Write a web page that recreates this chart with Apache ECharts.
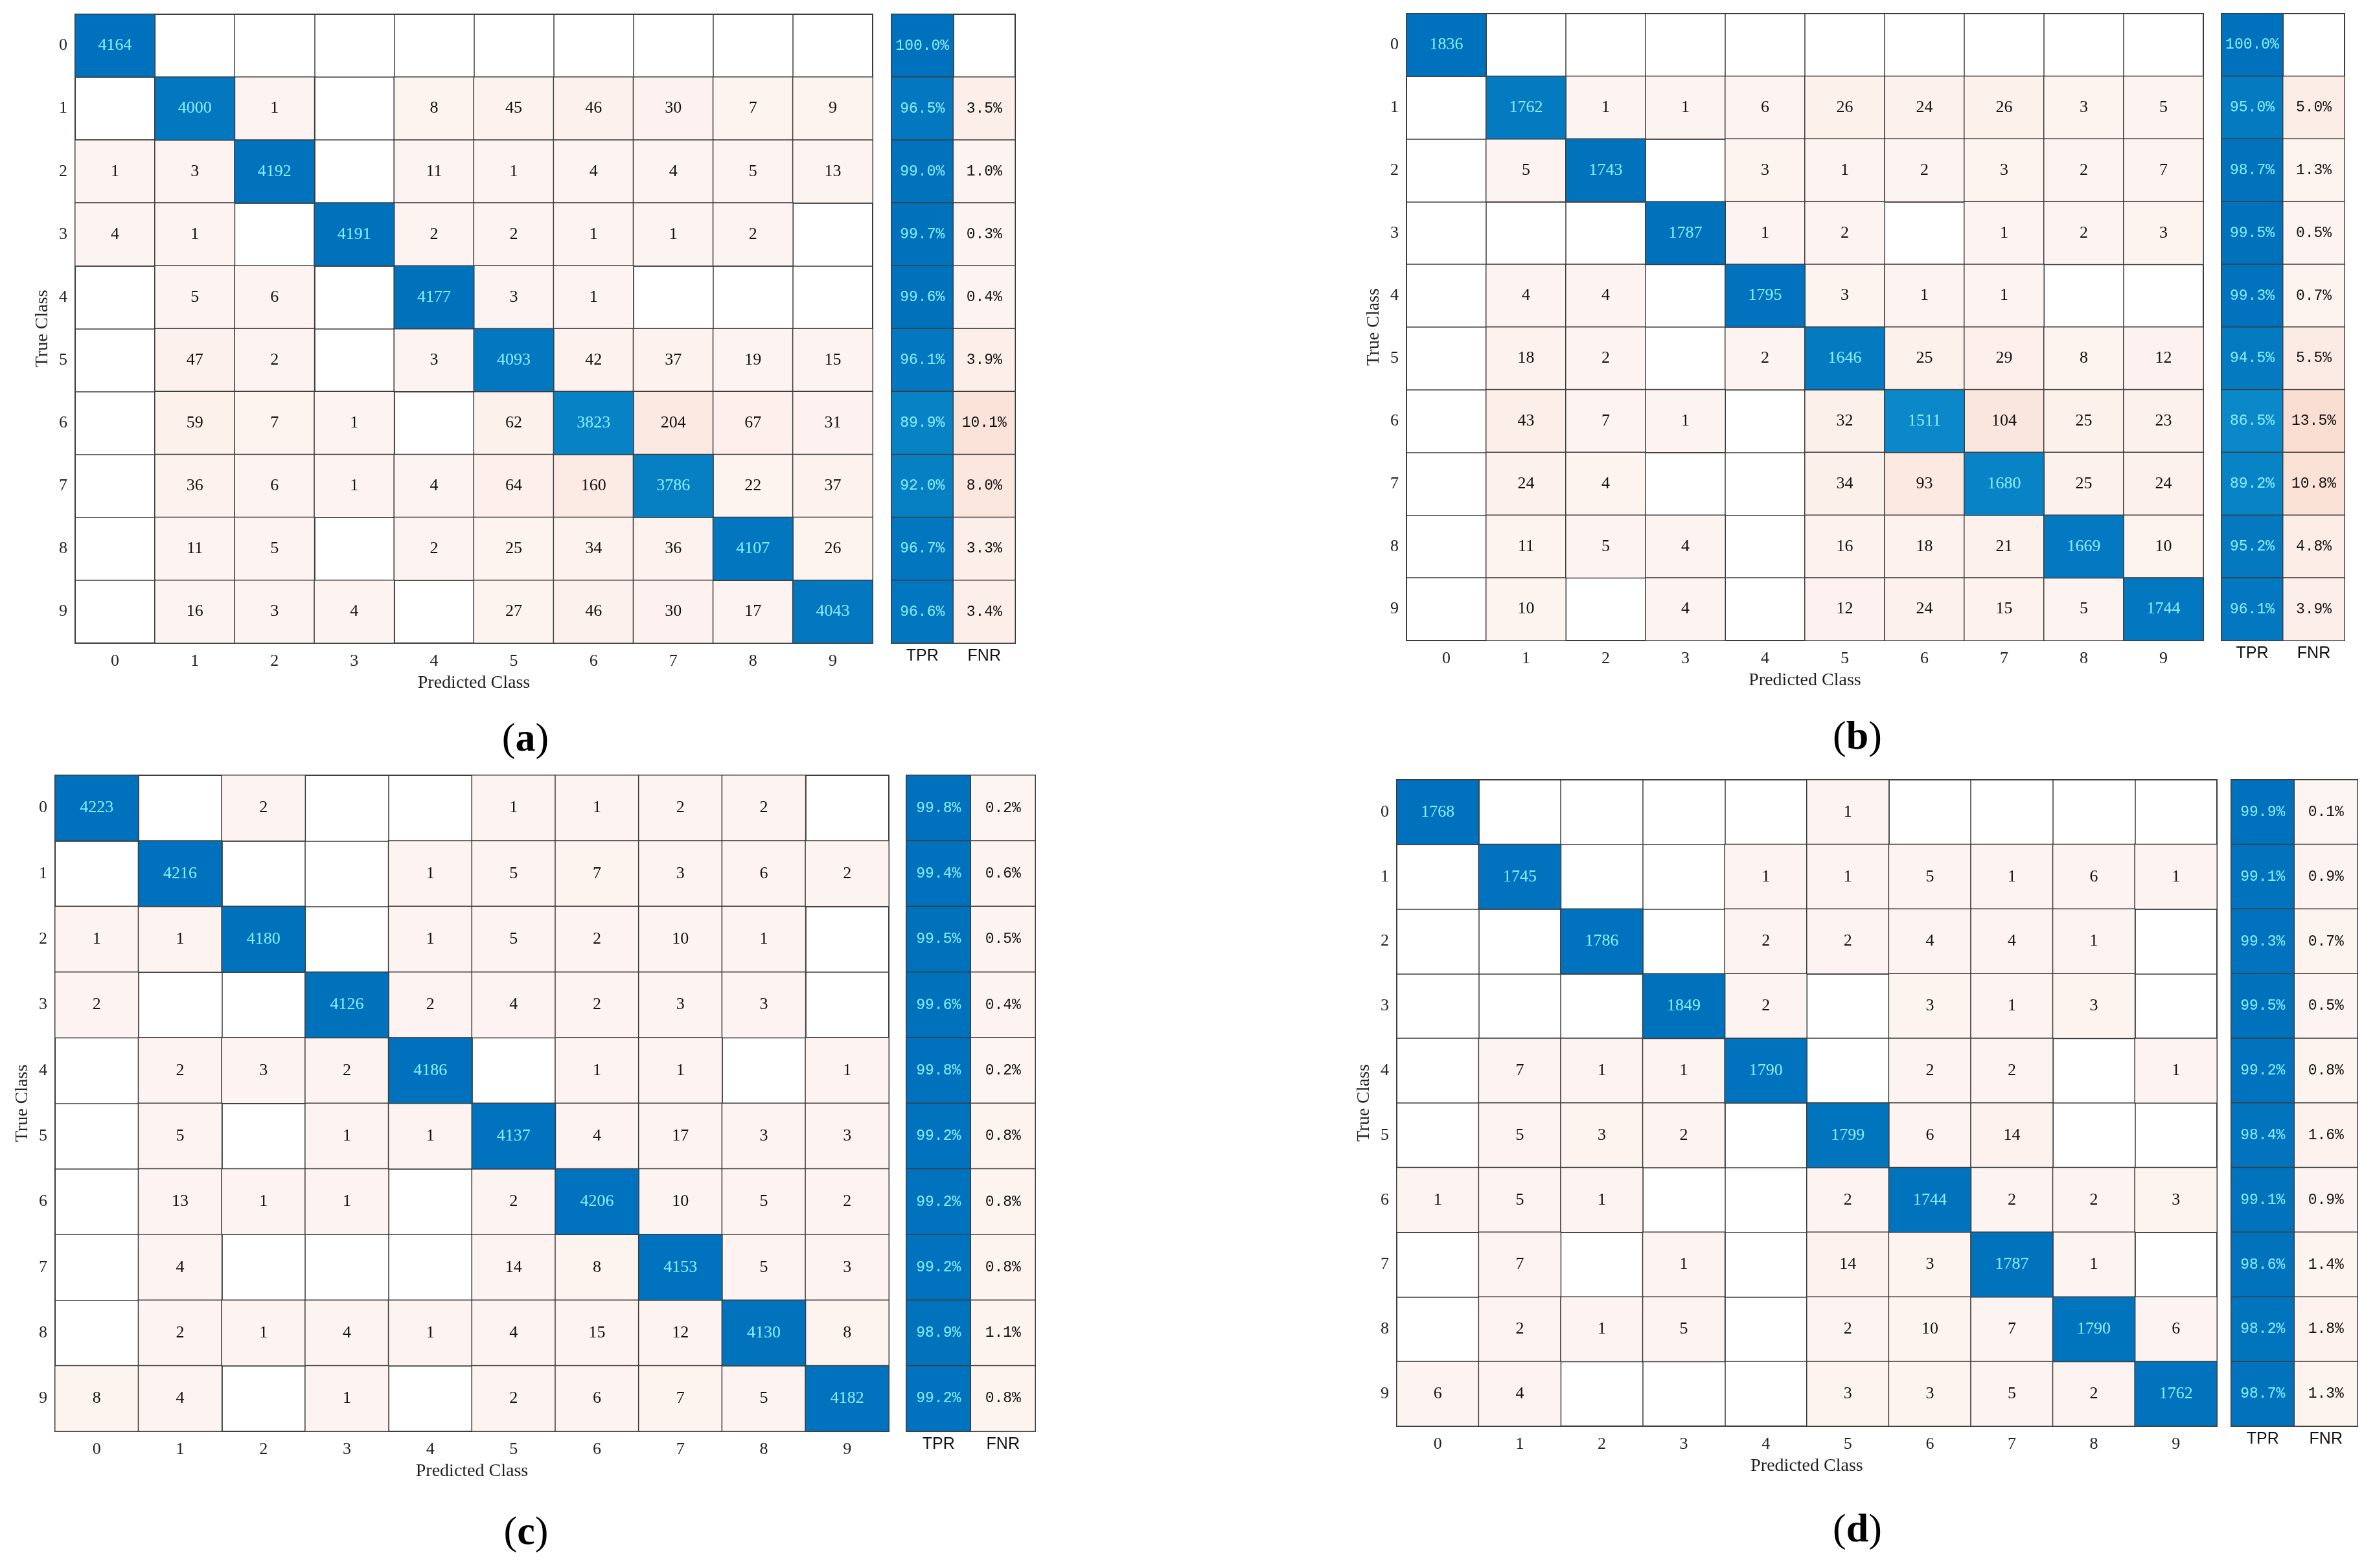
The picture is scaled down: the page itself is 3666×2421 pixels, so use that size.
<!DOCTYPE html>
<html lang="en">
<head>
<meta charset="UTF-8">
<title>Confusion matrices (a)-(d)</title>
<script src="https://cdn.jsdelivr.net/npm/echarts@6/dist/echarts.min.js"></script>
<style>
  html, body { margin: 0; padding: 0; background: #fff; }
  #main { width: 3666px; height: 2421px; }
</style>
</head>
<body>
<div id="main"></div>
<script>
// class labels
var classes = ['0', '1', '2', '3', '4', '5', '6', '7', '8', '9'];
var rateCols = ['TPR', 'FNR'];
var panelNames = ['a', 'b', 'c', 'd'];

// rows = true class, cols = predicted class, 0 = empty cell
var matrixA = [
    [4164, 0, 0, 0, 0, 0, 0, 0, 0, 0],
    [0, 4000, 1, 0, 8, 45, 46, 30, 7, 9],
    [1, 3, 4192, 0, 11, 1, 4, 4, 5, 13],
    [4, 1, 0, 4191, 2, 2, 1, 1, 2, 0],
    [0, 5, 6, 0, 4177, 3, 1, 0, 0, 0],
    [0, 47, 2, 0, 3, 4093, 42, 37, 19, 15],
    [0, 59, 7, 1, 0, 62, 3823, 204, 67, 31],
    [0, 36, 6, 1, 4, 64, 160, 3786, 22, 37],
    [0, 11, 5, 0, 2, 25, 34, 36, 4107, 26],
    [0, 16, 3, 4, 0, 27, 46, 30, 17, 4043]
];
var tprA = [100.0, 96.5, 99.0, 99.7, 99.6, 96.1, 89.9, 92.0, 96.7, 96.6];
var fnrA = [null, 3.5, 1.0, 0.3, 0.4, 3.9, 10.1, 8.0, 3.3, 3.4];

var matrixB = [
    [1836, 0, 0, 0, 0, 0, 0, 0, 0, 0],
    [0, 1762, 1, 1, 6, 26, 24, 26, 3, 5],
    [0, 5, 1743, 0, 3, 1, 2, 3, 2, 7],
    [0, 0, 0, 1787, 1, 2, 0, 1, 2, 3],
    [0, 4, 4, 0, 1795, 3, 1, 1, 0, 0],
    [0, 18, 2, 0, 2, 1646, 25, 29, 8, 12],
    [0, 43, 7, 1, 0, 32, 1511, 104, 25, 23],
    [0, 24, 4, 0, 0, 34, 93, 1680, 25, 24],
    [0, 11, 5, 4, 0, 16, 18, 21, 1669, 10],
    [0, 10, 0, 4, 0, 12, 24, 15, 5, 1744]
];
var tprB = [100.0, 95.0, 98.7, 99.5, 99.3, 94.5, 86.5, 89.2, 95.2, 96.1];
var fnrB = [null, 5.0, 1.3, 0.5, 0.7, 5.5, 13.5, 10.8, 4.8, 3.9];

var matrixC = [
    [4223, 0, 2, 0, 0, 1, 1, 2, 2, 0],
    [0, 4216, 0, 0, 1, 5, 7, 3, 6, 2],
    [1, 1, 4180, 0, 1, 5, 2, 10, 1, 0],
    [2, 0, 0, 4126, 2, 4, 2, 3, 3, 0],
    [0, 2, 3, 2, 4186, 0, 1, 1, 0, 1],
    [0, 5, 0, 1, 1, 4137, 4, 17, 3, 3],
    [0, 13, 1, 1, 0, 2, 4206, 10, 5, 2],
    [0, 4, 0, 0, 0, 14, 8, 4153, 5, 3],
    [0, 2, 1, 4, 1, 4, 15, 12, 4130, 8],
    [8, 4, 0, 1, 0, 2, 6, 7, 5, 4182]
];
var tprC = [99.8, 99.4, 99.5, 99.6, 99.8, 99.2, 99.2, 99.2, 98.9, 99.2];
var fnrC = [0.2, 0.6, 0.5, 0.4, 0.2, 0.8, 0.8, 0.8, 1.1, 0.8];

var matrixD = [
    [1768, 0, 0, 0, 0, 1, 0, 0, 0, 0],
    [0, 1745, 0, 0, 1, 1, 5, 1, 6, 1],
    [0, 0, 1786, 0, 2, 2, 4, 4, 1, 0],
    [0, 0, 0, 1849, 2, 0, 3, 1, 3, 0],
    [0, 7, 1, 1, 1790, 0, 2, 2, 0, 1],
    [0, 5, 3, 2, 0, 1799, 6, 14, 0, 0],
    [1, 5, 1, 0, 0, 2, 1744, 2, 2, 3],
    [0, 7, 0, 1, 0, 14, 3, 1787, 1, 0],
    [0, 2, 1, 5, 0, 2, 10, 7, 1790, 6],
    [6, 4, 0, 0, 0, 3, 3, 5, 2, 1762]
];
var tprD = [99.9, 99.1, 99.3, 99.5, 99.2, 98.4, 99.1, 98.6, 98.2, 98.7];
var fnrD = [0.1, 0.9, 0.7, 0.5, 0.8, 1.6, 0.9, 1.4, 1.8, 1.3];

var matrices = [matrixA, matrixB, matrixC, matrixD];
var tprs = [tprA, tprB, tprC, tprD];
var fnrs = [fnrA, fnrB, fnrC, fnrD];

// panel placement in px: matrix box, side (TPR/FNR) box, caption centre
var layouts = [
    { m: [116, 22, 1231, 971], s: [1376, 22, 191, 971], cap: [811, 1143] },
    { m: [2171, 21, 1230, 968], s: [3429, 21, 190, 968], cap: [2867, 1140] },
    { m: [85, 1197, 1287, 1013], s: [1399, 1197, 199, 1013], cap: [812, 2368] },
    { m: [2156, 1204, 1266, 998], s: [3444, 1204, 195, 998], cap: [2867, 2364] }
];

var SERIF = 'Liberation Serif';
var lineCol = '#3c3c3c';
var cyan = '#8cf0ff';

var chart = echarts.init(document.getElementById('main'));

var grids = [], xAxes = [], yAxes = [], series = [], graphics = [];
var offIdx = [], diagIdx = [], tprIdx = [], fnrIdx = [];

function box(b) {
    return { left: b[0], top: b[1], width: b[2], height: b[3], show: true,
             borderColor: lineCol, borderWidth: 2, backgroundColor: '#fff', containLabel: false };
}

for (var p = 0; p < 4; p++) {
    var L = layouts[p], M = matrices[p];
    grids.push(box(L.m), box(L.s));
    var gm = 2 * p, gs = 2 * p + 1;

    xAxes.push({
        type: 'category', gridIndex: gm, data: classes, position: 'bottom',
        name: 'Predicted Class', nameLocation: 'middle', nameGap: 48,
        nameTextStyle: { fontFamily: SERIF, fontSize: 28, color: '#222' },
        axisLine: { show: false }, axisTick: { show: false },
        axisLabel: { fontFamily: SERIF, fontSize: 26, color: '#222', margin: 15 },
        splitLine: { show: true, interval: 0, lineStyle: { color: lineCol, width: 1.5 } }
    });
    xAxes.push({
        type: 'category', gridIndex: gs, data: rateCols, position: 'bottom',
        axisLine: { show: false }, axisTick: { show: false },
        axisLabel: { fontFamily: 'Liberation Sans', fontSize: 25, color: '#111', margin: 8 },
        splitLine: { show: true, interval: 0, lineStyle: { color: lineCol, width: 1.5 } }
    });
    yAxes.push({
        type: 'category', gridIndex: gm, data: classes, inverse: true,
        name: 'True Class', nameLocation: 'middle', nameGap: 36, nameRotate: 90,
        nameTextStyle: { fontFamily: SERIF, fontSize: 28, color: '#222' },
        axisLine: { show: false }, axisTick: { show: false },
        axisLabel: { fontFamily: SERIF, fontSize: 26, color: '#222', margin: 12 },
        splitLine: { show: true, interval: 0, lineStyle: { color: lineCol, width: 1.5 } }
    });
    yAxes.push({
        type: 'category', gridIndex: gs, data: classes, inverse: true,
        axisLine: { show: false }, axisTick: { show: false }, axisLabel: { show: false },
        splitLine: { show: true, interval: 0, lineStyle: { color: lineCol, width: 1.5 } }
    });

    // split matrix cells into diagonal and off-diagonal, keep row share for colour
    var off = [], diag = [];
    for (var i = 0; i < 10; i++) {
        var rowSum = M[i].reduce(function (a, b) { return a + b; }, 0);
        for (var j = 0; j < 10; j++) {
            var v = M[i][j];
            if (!v) continue;
            var item = [j, i, v, v / rowSum];
            if (i === j) diag.push(item); else off.push(item);
        }
    }
    var tprData = tprs[p].map(function (v, i) { return [0, i, v]; });
    var fnrData = [];
    fnrs[p].forEach(function (v, i) { if (v !== null) fnrData.push([1, i, v]); });

    var cellStyle = { borderColor: lineCol, borderWidth: 1.5 };
    var base = series.length;
    series.push({
        type: 'heatmap', xAxisIndex: gm, yAxisIndex: gm, data: off, itemStyle: cellStyle,
        label: { show: true, fontFamily: SERIF, fontSize: 26, color: '#111',
                 formatter: function (q) { return q.value[2]; } },
        emphasis: { disabled: true }
    });
    series.push({
        type: 'heatmap', xAxisIndex: gm, yAxisIndex: gm, data: diag, itemStyle: cellStyle,
        label: { show: true, fontFamily: SERIF, fontSize: 26, color: cyan,
                 formatter: function (q) { return q.value[2]; } },
        emphasis: { disabled: true }
    });
    series.push({
        type: 'heatmap', xAxisIndex: gs, yAxisIndex: gs, data: tprData, itemStyle: cellStyle,
        label: { show: true, fontFamily: 'Liberation Mono', fontSize: 23, color: cyan,
                 formatter: function (q) { return q.value[2].toFixed(1) + '%'; } },
        emphasis: { disabled: true }
    });
    series.push({
        type: 'heatmap', xAxisIndex: gs, yAxisIndex: gs, data: fnrData, itemStyle: cellStyle,
        label: { show: true, fontFamily: 'Liberation Mono', fontSize: 23, color: '#111',
                 formatter: function (q) { return q.value[2].toFixed(1) + '%'; } },
        emphasis: { disabled: true }
    });
    offIdx.push(base); diagIdx.push(base + 1); tprIdx.push(base + 2); fnrIdx.push(base + 3);

    graphics.push({
        type: 'text', x: L.cap[0], y: L.cap[1],
        style: {
            text: '({b|' + panelNames[p] + '})',
            font: '62px "Liberation Serif"', fill: '#000',
            textAlign: 'center', textVerticalAlign: 'middle',
            rich: { b: { fontFamily: SERIF, fontSize: 62, fontWeight: 'bold', fill: '#000' } }
        }
    });
}

var option = {
    backgroundColor: '#fff',
    animation: false,
    textStyle: { fontFamily: SERIF },
    grid: grids,
    xAxis: xAxes,
    yAxis: yAxes,
    visualMap: [
        { type: 'continuous', show: false, seriesIndex: offIdx, dimension: 3,
          min: 0, max: 0.07, inRange: { color: ['#fdf4f1', '#fbe4da'] } },
        { type: 'continuous', show: false, seriesIndex: diagIdx, dimension: 3,
          min: 0.85, max: 1, inRange: { color: ['#0b8bca', '#0071bc'] } },
        { type: 'continuous', show: false, seriesIndex: tprIdx, dimension: 2,
          min: 85, max: 100, inRange: { color: ['#0b8bca', '#0071bc'] } },
        { type: 'continuous', show: false, seriesIndex: fnrIdx, dimension: 2,
          min: 0, max: 15, inRange: { color: ['#fdf5f2', '#f9dbcd'] } }
    ],
    series: series,
    graphic: graphics
};

chart.setOption(option);
</script>
</body>
</html>
